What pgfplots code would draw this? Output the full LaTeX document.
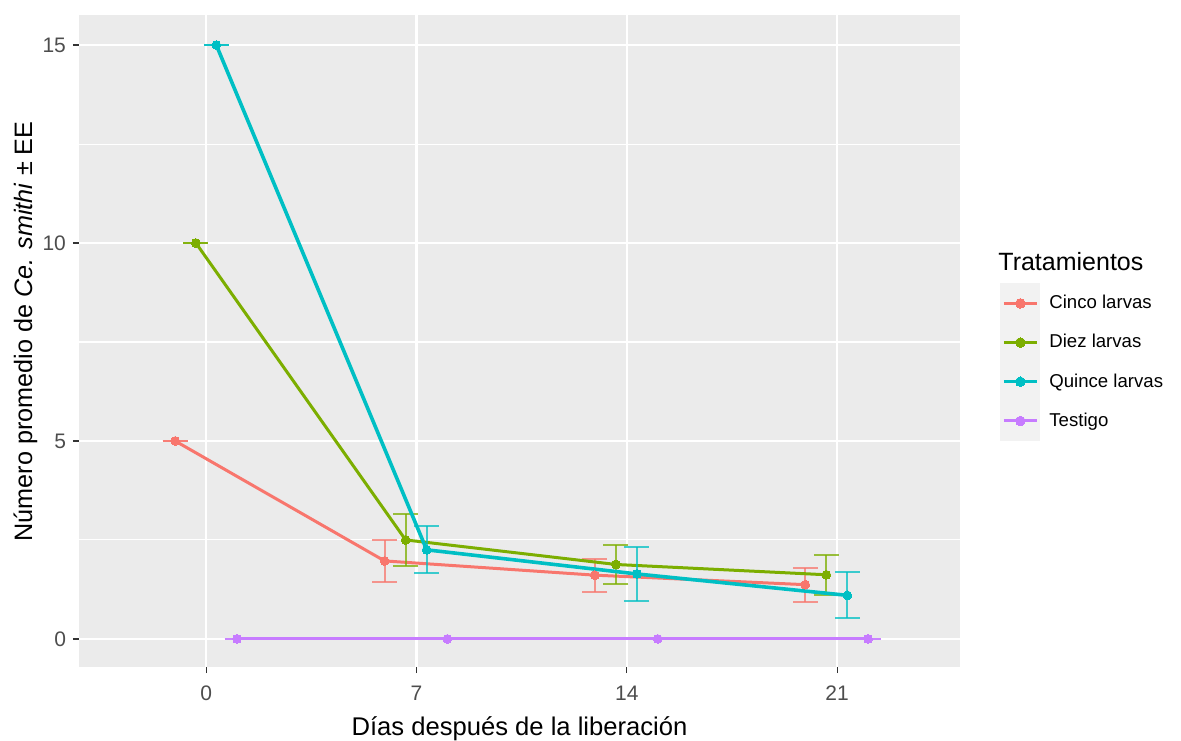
\documentclass[border=0pt]{standalone}
\usepackage{pgfplots}
\usepackage{pgfplotstable}
\pgfplotsset{compat=1.18}
\usepackage{fontspec}
\setmainfont{Liberation Sans}

\definecolor{cinco}{HTML}{F8766D}
\definecolor{diez}{HTML}{7CAE00}
\definecolor{quince}{HTML}{00BFC4}
\definecolor{testigo}{HTML}{C77CFF}
\definecolor{panel}{HTML}{EBEBEB}
\definecolor{keybg}{HTML}{F2F2F2}
\definecolor{ticktxt}{HTML}{4D4D4D}
\definecolor{tickmk}{HTML}{333333}

% mean number per treatment, days dodged around 0, 7, 14, 21; e = standard error
\pgfplotstableread{
x      y     e
-1.03  5.00  0
5.94   1.97  0.53
12.94  1.61  0.42
19.94  1.37  0.43
}\cinco
\pgfplotstableread{
x      y     e
-0.34  10.00 0
6.64   2.50  0.65
13.64  1.88  0.49
20.64  1.62  0.50
}\diez
\pgfplotstableread{
x      y     e
0.34   15.00 0
7.34   2.25  0.59
14.34  1.64  0.67
21.34  1.10  0.58
}\quince
\pgfplotstableread{
x      y     e
1.03   0     0
8.03   0     0
15.03  0     0
22.03  0     0
}\testigo

\pgfplotsset{
  trat/.style={
    color=#1, line width=1.5pt, mark=*, mark size=2.2pt,
    mark options={solid, line width=0pt, fill=#1},
    error bars/y dir=both, error bars/y explicit,
    error bars/error bar style={line width=1pt, #1, opacity=0.75},
    error bars/error mark options={rotate=90, mark size=6.25pt, line width=1pt, #1, opacity=0.75},
  },
}

\begin{document}
\begin{tikzpicture}
\path[use as bounding box] (0,0) rectangle (590.5pt,370pt);
\begin{axis}[
  at={(39.5pt,36.5pt)}, anchor=south west,
  scale only axis, width=440.5pt, height=326pt,
  xmin=-4.23, xmax=25.09, ymin=-0.71, ymax=15.76,
  axis background/.style={fill=panel},
  axis line style={draw=none},
  xtick={0,7,14,21}, ytick={0,5,10,15}, minor ytick={2.5,7.5,12.5},
  xmajorgrids, ymajorgrids, yminorgrids,
  major grid style={white, line width=1.1pt},
  minor grid style={white, line width=0.55pt},
  tick align=outside, major tick length=3pt, minor tick length=0pt,
  xtick pos=bottom, ytick pos=left,
  tick style={tickmk, line width=0.6pt},
  /pgf/number format/assume math mode=true,
  ticklabel style={font=\fontsize{10.5}{12}\selectfont, text=ticktxt},
  xticklabel style={yshift=-3pt},
  xlabel={Días después de la liberación},
  ylabel={Número promedio de \textit{Ce. smithi} ± EE},
  every axis x label/.style={at={(axis description cs:0.5,-0.1058)}, anchor=base,
    font=\fontsize{12.8}{15}\selectfont},
  every axis y label/.style={at={(axis description cs:-0.0533,0.5146)}, rotate=90, anchor=base,
    font=\fontsize{12.6}{15}\selectfont},
  legend style={at={(axis description cs:1.0454,0.589)}, anchor=north west,
    draw=none, fill=none, inner sep=0pt, row sep=-0.4pt,
    font=\fontsize{9.3}{11}\selectfont,
    nodes={inner sep=0pt},
    /tikz/every odd column/.append style={column sep=4.5pt}},
  legend cell align=left,
  legend image post style={line width=1.5pt, mark size=2.4pt, mark options={solid, line width=0pt}},
  legend image code/.code={
    \fill[keybg] (0pt,-9.25pt) rectangle (18.5pt,9.25pt);
    \draw[mark repeat=2, mark phase=2, #1] plot coordinates {(1pt,0pt) (9.25pt,0pt) (17.5pt,0pt)};
  },
]
\addplot[trat=cinco] table[x=x, y=y, y error=e] {\cinco};
\addlegendentry{Cinco larvas}
\addplot[trat=diez] table[x=x, y=y, y error=e] {\diez};
\addlegendentry{Diez larvas}
\addplot[trat=quince, line width=1.8pt] table[x=x, y=y, y error=e] {\quince};
\addlegendentry{Quince larvas}
\addplot[trat=testigo] table[x=x, y=y, y error=e] {\testigo};
\addlegendentry{Testigo}
\end{axis}
\node[anchor=base west, inner sep=0pt, font=\fontsize{12.5}{15}\selectfont] at (499pt,235pt) {Tratamientos};
\end{tikzpicture}
\end{document}
